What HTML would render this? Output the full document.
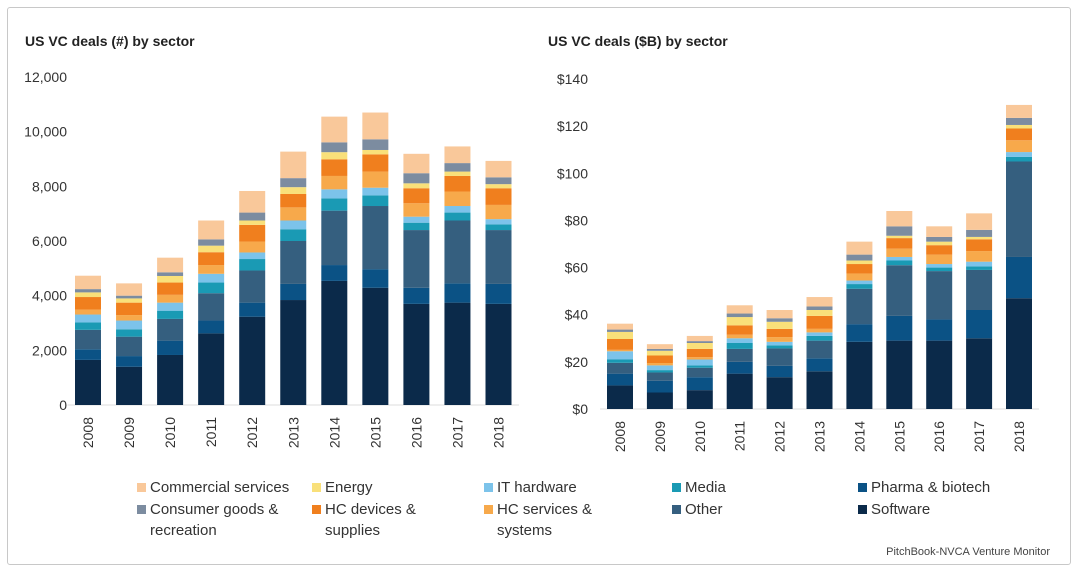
<!DOCTYPE html>
<html><head><meta charset="utf-8"><style>
body{margin:0;background:#fff;font-family:"Liberation Sans",sans-serif;}
#frame{position:absolute;left:7px;top:7px;width:1064px;height:558px;border:1.5px solid #c8c8c8;border-radius:3px;box-sizing:border-box;}
svg{position:absolute;left:0;top:0;}
</style></head><body>
<div id="frame"></div>
<svg id="s" width="1080" height="575"></svg>
<script>
const years=['2008','2009','2010','2011','2012','2013','2014','2015','2016','2017','2018'];
const sectors=['Software','Pharma & biotech','Other','Media','IT hardware','HC services & systems','HC devices & supplies','Energy','Consumer goods & recreation','Commercial services'];
const colors=['#0b2a4a','#0b5285','#355f7f','#1a9ab4','#7cc3ea','#f7a94b','#f07f1e','#f9e07a','#7c8ca0','#f9c89a'];
const dealCount=[
[1650,1400,1830,2620,3230,3840,4540,4290,3700,3745,3700],
[390,390,525,470,515,590,580,680,590,705,730],
[710,710,795,1000,1175,1570,1990,2310,2110,2300,1970],
[270,270,300,390,420,430,450,390,270,290,210],
[290,320,295,320,240,320,330,280,220,240,190],
[180,200,285,320,400,480,490,590,490,530,520],
[460,455,450,470,610,490,610,630,550,570,610],
[170,155,240,240,160,250,260,160,180,160,150],
[120,100,135,230,290,330,360,390,370,310,250],
[490,450,535,690,790,970,940,980,710,610,600]];
const dealValue=[
[10,7,8,15,13.5,16,28.5,29,29,30,47],
[5,5,5.5,5,4.8,5.5,7.5,10.5,9,12,17.5],
[4.6,3.5,4,5.5,7.4,7.5,15,21.5,20.5,17,40.5],
[1.4,1,1,2.5,1.3,2,2,2,1.5,1.5,2],
[3.5,2,2.5,2,1.5,1.5,1.5,1.5,1.5,2,2],
[0.6,1,1,1.5,2,1.5,3,3.5,4,4.5,5],
[4.6,3.2,3.5,4,3.5,5.5,4,4.5,4,5,5],
[3,2,2.5,3.5,3,2.5,1.5,1,1.5,1,1.5],
[1,0.8,0.8,1.5,1.5,1.5,2.5,4,2,3,3],
[2.5,2,2.2,3.5,3.5,4,5.5,6.5,4.5,7,5.5]];
const leftTicks=[0,2000,4000,6000,8000,10000,12000];
const leftTickLabels=['0','2,000','4,000','6,000','8,000','10,000','12,000'];
const rightTicks=[0,20,40,60,80,100,120,140];
const rightTickLabels=['$0','$20','$40','$60','$80','$100','$120','$140'];
const NS='http://www.w3.org/2000/svg';
const svg=document.getElementById('s');
function mk(t,a,p){const e=document.createElementNS(NS,t);for(const k in a)e.setAttribute(k,a[k]);(p||svg).appendChild(e);return e;}
function chart(cfg){
  const g=mk('g',{});
  
  
  const y=v=>cfg.y0-(v/cfg.max)*(cfg.y0-cfg.yTop);
  const x=i=>cfg.x0+i*cfg.step;
  const t=mk('text',{x:cfg.titleX,y:46,'font-size':14,'font-weight':'bold',fill:'#222'},g);t.textContent=cfg.title;
  
  
  cfg.ticks.forEach((v,i)=>{const l=mk('text',{x:cfg.labelX,y:y(v)+5,'font-size':14,'text-anchor':'end',fill:'#333'},g);l.textContent=cfg.tickLabels[i];
    
    });
  mk('line',{x1:cfg.x0-cfg.step/2,x2:x(years.length-1)+cfg.step/2,y1:cfg.y0,y2:cfg.y0,stroke:'#ddd'},g);
  years.forEach((yr,i)=>{
    let acc=0;
    cfg.data.forEach((ser,s)=>{
      const v=ser[i];
      const r=mk('rect',{x:x(i)-13,y:y(acc+v),width:26,height:y(acc)-y(acc+v),fill:colors[s]},g);
      
      
      acc+=v;
    });
    const tl=mk('text',{x:0,y:0,'font-size':14,fill:'#333','text-anchor':'end',transform:`translate(${x(i)+5},${cfg.y0+12}) rotate(-90)`},g);
    tl.textContent=yr;
    
    
  });
}
chart({name:'deal-count-chart',title:'US VC deals (#) by sector',titleX:25,x0:88,step:41.05,y0:405,yTop:77,max:12000,ticks:leftTicks,tickLabels:leftTickLabels,labelX:67,data:dealCount});
chart({name:'deal-value-chart',title:'US VC deals ($B) by sector',titleX:548,x0:620,step:39.9,y0:409,yTop:79,max:140,ticks:rightTicks,tickLabels:rightTickLabels,labelX:588,data:dealValue});
const legendItems=[
 [9,137,492,['Commercial services']],[7,312,492,['Energy']],[4,484,492,['IT hardware']],[3,672,492,['Media']],[1,858,492,['Pharma & biotech']],
 [8,137,514,['Consumer goods &','recreation']],[6,312,514,['HC devices &','supplies']],[5,484,514,['HC services &','systems']],[2,672,514,['Other']],[0,858,514,['Software']]];
legendItems.forEach(([s,lx,ly,lines])=>{
  const g=mk('g',{});
  
  
  mk('rect',{x:lx,y:ly-9,width:9,height:9,fill:colors[s]},g);
  lines.forEach((ln,k)=>{const t=mk('text',{x:lx+13,y:ly+k*21,'font-size':15,fill:'#333'},g);t.textContent=ln;});
});
const f=mk('text',{x:1050,y:555,'font-size':11,'text-anchor':'end',fill:'#444'});f.textContent='PitchBook-NVCA Venture Monitor';


</script>
</body></html>
